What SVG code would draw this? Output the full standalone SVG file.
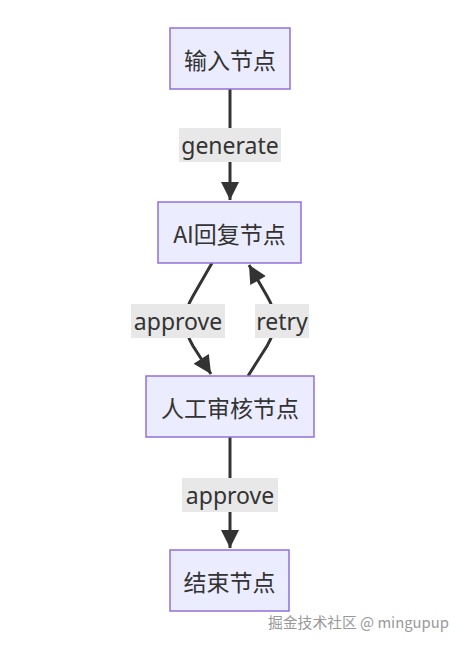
<svg xmlns="http://www.w3.org/2000/svg" width="465" height="648" viewBox="0 0 465 648">
<style>
.node rect{fill:#ECECFF;stroke:#9370DB;stroke-width:1.5}
.node text{font-family:"Noto Sans CJK SC","Noto Sans",sans-serif;font-size:23px;fill:#333;text-anchor:middle;dominant-baseline:central}
.edge{fill:none;stroke:#333;stroke-width:3}
.lbl rect{fill:#e8e8e8}
.lbl text{font-family:"Noto Sans","Noto Sans CJK SC",sans-serif;font-size:23px;fill:#333;text-anchor:middle;dominant-baseline:central}
.wm{font-family:"Noto Sans CJK SC","Noto Sans",sans-serif;font-size:14.8px;fill:#999}
</style>
<defs>
<marker id="arr" viewBox="0 0 10 10" refX="10" refY="5" markerWidth="6.5" markerHeight="6" markerUnits="strokeWidth" orient="auto">
<path d="M0,0 L10,5 L0,10 z" fill="#333"/>
</marker>
</defs>
<rect width="465" height="648" fill="#fff"/>
<g id="edges">
<path class="edge" d="M230,89 L230,200" marker-end="url(#arr)"/>
<path class="edge" d="M212,263 L193,296 Q178,321 193,346 L211,374" marker-end="url(#arr)"/>
<path class="edge" d="M248,376 L267,346 Q282,321 267,296 L249,265" marker-end="url(#arr)"/>
<path class="edge" d="M230,437 L230,548" marker-end="url(#arr)"/>
</g>
<g id="edge-labels">
<g class="lbl"><rect x="179" y="128" width="102" height="34"/><text x="230" y="145">generate</text></g>
<g class="lbl"><rect x="131" y="304" width="94" height="34"/><text x="178" y="321">approve</text></g>
<g class="lbl"><rect x="255" y="304" width="54" height="34"/><text x="282" y="321">retry</text></g>
<g class="lbl"><rect x="182" y="478" width="96" height="34"/><text x="230" y="495">approve</text></g>
</g>
<g id="n1" class="node"><rect x="170" y="28" width="120" height="61"/><text x="230" y="58.5">输入节点</text></g>
<g id="n2" class="node"><rect x="158" y="202" width="143" height="61"/><text x="229.5" y="232.5">AI回复节点</text></g>
<g id="n3" class="node"><rect x="146" y="376" width="168" height="61"/><text x="230" y="406.5">人工审核节点</text></g>
<g id="n4" class="node"><rect x="170" y="550" width="119" height="61"/><text x="229.5" y="580.5">结束节点</text></g>
<text class="wm" x="268" y="628">掘金技术社区 @ mingupup</text>
</svg>
